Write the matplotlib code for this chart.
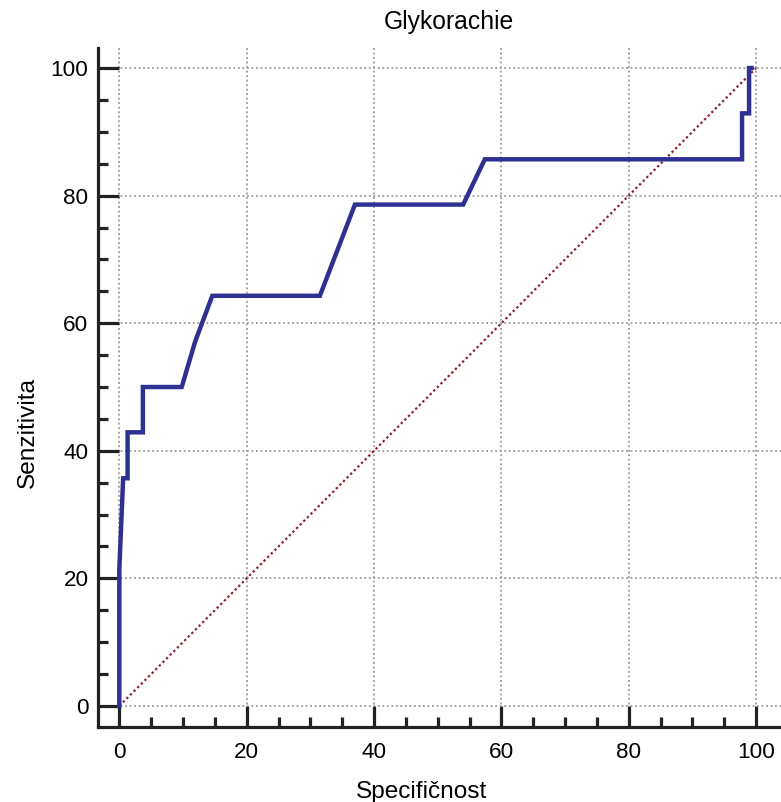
import numpy as np
import matplotlib
matplotlib.use("Agg")
import matplotlib.pyplot as plt
from matplotlib.ticker import MultipleLocator

plt.rcParams['font.family'] = ['Liberation Sans', 'DejaVu Sans']

# ROC krivka - glykorachie
specificnost = [0, 0, 0.6, 1.3, 1.3, 3.7, 3.7, 9.8, 11.9, 14.6, 31.5, 37.0,
                54.0, 57.4, 97.8, 97.8, 98.9, 98.9, 99.3]
senzitivita = [0, 21.4, 35.7, 35.7, 42.9, 42.9, 50.0, 50.0, 57.1, 64.3, 64.3,
               78.6, 78.6, 85.7, 85.7, 92.9, 92.9, 100, 100]
diagonala = [0, 100]
ticks = [0, 20, 40, 60, 80, 100]

W, H = 781, 802
fig = plt.figure(figsize=(W / 100, H / 100), dpi=100)

# osa presahuje pravy okraj obrazku (jako v originalu)
left, right, top, bottom = 98.3, 800, 48.3, 726.7
ax = fig.add_axes([left / W, 1 - bottom / H, (right - left) / W, (bottom - top) / H])

ax.plot(diagonala, diagonala, color='#8b1a2a', linestyle=(0, (1, 1.3)), linewidth=1.6, zorder=2)
ax.plot(specificnost, senzitivita, color='#2e3192', linewidth=3.2, zorder=3,
        solid_joinstyle='miter')

ax.set_xlim(-3.3, 106.9)
ax.set_ylim(-3.25, 103.1)
ax.set_xticks(ticks)
ax.set_yticks(ticks)
ax.xaxis.set_minor_locator(MultipleLocator(5))
ax.yaxis.set_minor_locator(MultipleLocator(5))

for s in ['top', 'right']:
    ax.spines[s].set_visible(False)
for s in ['left', 'bottom']:
    ax.spines[s].set_linewidth(2.3)
    ax.spines[s].set_color('#222222')

ax.tick_params(which='major', direction='in', length=15, width=2.3, color='#222222',
               labelsize=16.2)
ax.tick_params(which='minor', direction='in', length=7.5, width=2.3, color='#222222')
ax.tick_params(axis='x', which='major', pad=11)
ax.tick_params(axis='y', which='major', pad=7)

ax.grid(True, which='major', color='#999999', linestyle=(0, (1, 1.5)), linewidth=1.3)
ax.set_axisbelow(True)

fig.text(449 / W, 1 - 22 / H, 'Glykorachie', ha='center', va='center', fontsize=17.8)
fig.text(422 / W, 1 - 798 / H, 'Specifičnost', ha='center', va='baseline', fontsize=17.6)
fig.text(28 / W, 1 - 377 / H, 'Senzitivita', ha='right', va='center', rotation=90,
         fontsize=17.6, rotation_mode='anchor')

fig.savefig('out.png', dpi=100)
